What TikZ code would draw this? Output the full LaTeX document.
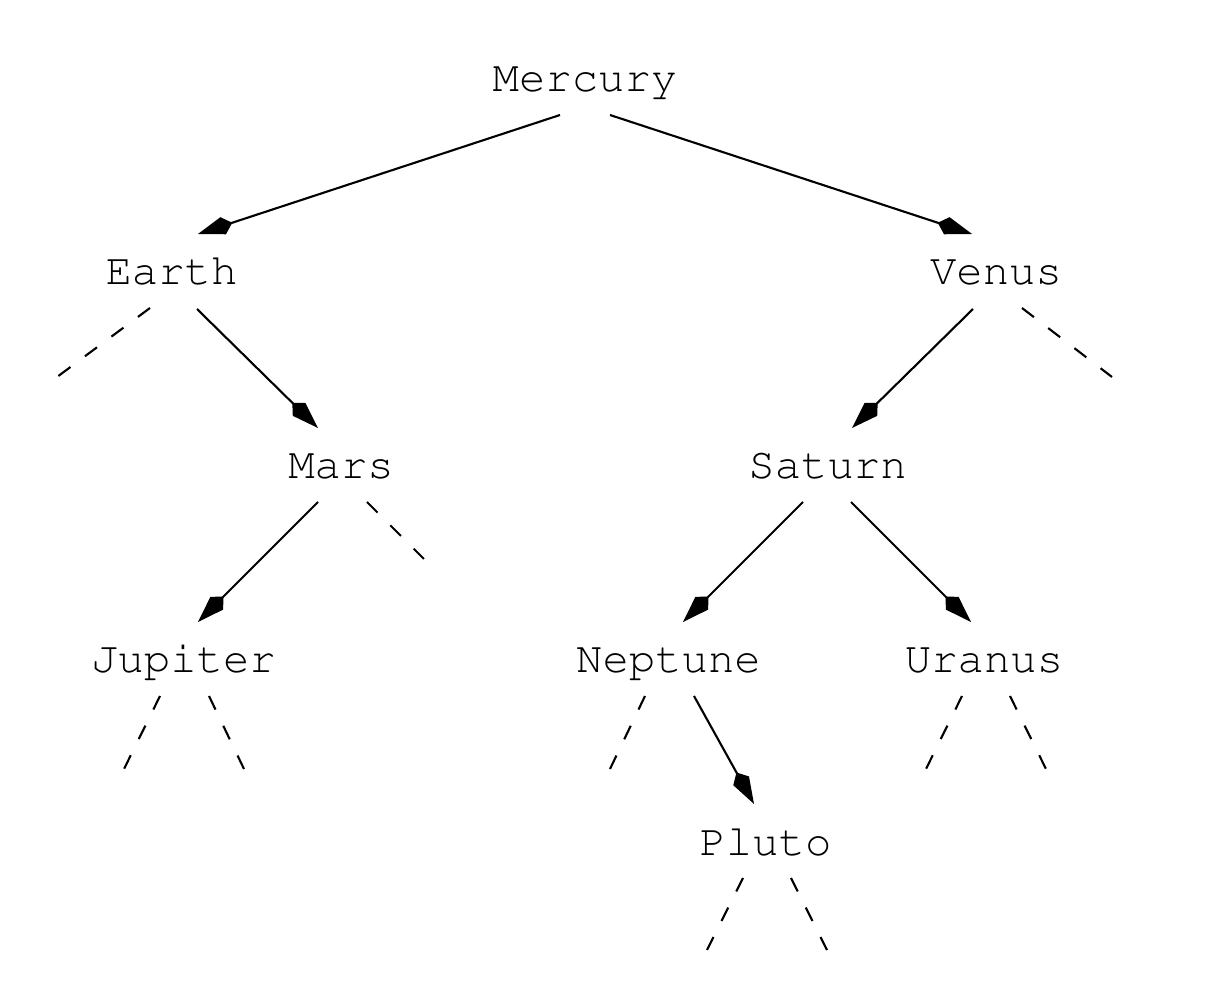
\documentclass[tikz,border=0pt]{standalone}
\usepackage[T1]{fontenc}
\usetikzlibrary{arrows.meta}
\begin{document}
\begin{tikzpicture}[x=0.01cm,y=-0.01cm,
  lbl/.style={anchor=base,inner sep=0pt,font=\fontfamily{pcr}\fontsize{12.5}{15}\selectfont},
  edge/.style={line width=0.6pt,-{Kite[length=0.36cm,width=0.18cm,inset=0.095cm]}},
  leaf/.style={line width=0.6pt,dash pattern=on 0.15cm off 0.18cm}]
\useasboundingbox (0,0) rectangle (1220,982);
\node[lbl] (mercury) at (585,91.5) {Mercury};
\node[lbl] (earth) at (171.5,284.5) {Earth};
\node[lbl] (venus) at (996,284.5) {Venus};
\node[lbl] (mars) at (341,478.5) {Mars};
\node[lbl] (saturn) at (827.5,478.5) {Saturn};
\node[lbl] (jupiter) at (183.5,672.5) {Jupiter};
\node[lbl] (neptune) at (668.5,672.5) {Neptune};
\node[lbl] (uranus) at (984,672.5) {Uranus};
\node[lbl] (pluto) at (765.5,855.5) {Pluto};
% solid edges
\draw[edge] ([shift={(-25,23.5)}]mercury.base) -- ([shift={(26.5,-50.5)}]earth.base);
\draw[edge] ([shift={(25,23.5)}]mercury.base) -- ([shift={(-24,-50.5)}]venus.base);
\draw[edge] ([shift={(25.5,24.5)}]earth.base) -- ([shift={(-23,-50.5)}]mars.base);
\draw[edge] ([shift={(-23,24.5)}]venus.base) -- ([shift={(24.5,-50.5)}]saturn.base);
\draw[edge] ([shift={(-23,23.5)}]mars.base) -- ([shift={(14.5,-50.5)}]jupiter.base);
\draw[edge] ([shift={(-24.5,23.5)}]saturn.base) -- ([shift={(14.5,-50.5)}]neptune.base);
\draw[edge] ([shift={(23.5,23.5)}]saturn.base) -- ([shift={(-13,-50.5)}]uranus.base);
\draw[edge] ([shift={(25.5,23.5)}]neptune.base) -- ([shift={(-11.5,-51.5)}]pluto.base);
% dashed leaves
\coordinate (el) at (57,377);
\coordinate (vr) at (1112,377);
\coordinate (mr) at (424,559);
\coordinate (jl) at (124,769);
\coordinate (jr) at (244,769);
\coordinate (nl) at (610,769);
\coordinate (ul) at (926,769);
\coordinate (ur) at (1046,769);
\coordinate (pl) at (707,950);
\coordinate (pr) at (827,950);
\draw[leaf] ([shift={(-21.5,23.5)}]earth.base) -- (el);
\draw[leaf] ([shift={(26,23.5)}]venus.base) -- (vr);
\draw[leaf] ([shift={(26,23.5)}]mars.base) -- (mr);
\draw[leaf] ([shift={(-23.5,23.5)}]jupiter.base) -- (jl);
\draw[leaf] ([shift={(25.5,23.5)}]jupiter.base) -- (jr);
\draw[leaf] ([shift={(-23.5,23.5)}]neptune.base) -- (nl);
\draw[leaf] ([shift={(-22,23.5)}]uranus.base) -- (ul);
\draw[leaf] ([shift={(26,23.5)}]uranus.base) -- (ur);
\draw[leaf] ([shift={(-22.5,22.5)}]pluto.base) -- (pl);
\draw[leaf] ([shift={(25.5,22.5)}]pluto.base) -- (pr);
\end{tikzpicture}
\end{document}
